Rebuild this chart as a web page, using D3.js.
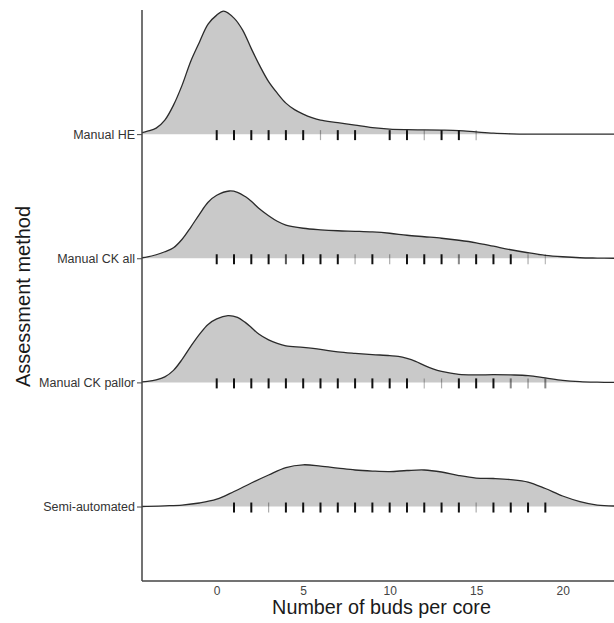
<!DOCTYPE html>
<html>
<head>
<meta charset="utf-8">
<script src="https://cdn.jsdelivr.net/npm/d3@7"></script>
<style>
html,body{margin:0;padding:0;background:#fff;}
svg{display:block;font-family:Arial,"Liberation Sans",Helvetica,sans-serif;}
</style>
</head>
<body>
<svg id="chart" width="614" height="623"></svg>
<script>
// ---- data ----
const categories = ["Manual HE", "Manual CK all", "Manual CK pallor", "Semi-automated"];
const categoryIndex = [4, 3, 2, 1];
const xTicks = [0, 5, 10, 15, 20];

// density curves: [number of buds, density]
const densityHE = [[-4.32,0.0023],[-4,0.0046],[-3.5,0.0092],[-3,0.0215],[-2.5,0.0446],[-2,0.0754],[-1.5,0.1123],[-1,0.1415],[-0.5,0.1692],[0,0.1831],[0.4,0.1892],[1,0.1785],[1.5,0.16],[2,0.1315],[2.5,0.1046],[3,0.0808],[3.5,0.0631],[4,0.0477],[4.5,0.0377],[5,0.0308],[5.5,0.0254],[6,0.0215],[7,0.0177],[8,0.0138],[9,0.01],[10,0.0077],[11,0.0069],[12,0.0066],[13,0.0062],[14,0.0054],[15,0.0034],[16,0.0015],[17,0.0005],[18,0],[23,0]];
const densityCKall = [[-4.32,0.0008],[-4,0.002],[-3.5,0.0054],[-3,0.01],[-2.5,0.0162],[-2,0.0292],[-1.5,0.0477],[-1,0.0677],[-0.5,0.0862],[0,0.0969],[0.73,0.1035],[1.2,0.1015],[1.65,0.0949],[2,0.0877],[2.43,0.0769],[3,0.0654],[3.5,0.0569],[4,0.0511],[5,0.0462],[6,0.0438],[7,0.0423],[8,0.0415],[9,0.0405],[10,0.0385],[11,0.0354],[12,0.0331],[13,0.0308],[14,0.0277],[15,0.0238],[16,0.0185],[17,0.0131],[18,0.0085],[19,0.0046],[20,0.0023],[21,0.0008],[22,0.0003],[23,0]];
const densityCKpallor = [[-4.32,0.0008],[-4,0.0015],[-3.5,0.0038],[-3,0.0085],[-2.5,0.0185],[-2,0.0354],[-1.5,0.0554],[-1,0.0738],[-0.5,0.0892],[0,0.0977],[0.65,0.1026],[1.2,0.1],[1.65,0.0923],[2,0.0846],[2.43,0.0743],[3,0.0654],[3.5,0.06],[4,0.0563],[5,0.0538],[6,0.0508],[7,0.0469],[8,0.0446],[9,0.0428],[10,0.0412],[10.5,0.04],[11,0.0369],[11.5,0.0323],[12,0.0262],[12.5,0.0208],[13,0.0169],[14,0.0123],[15,0.0115],[16,0.0118],[17,0.0115],[18,0.0105],[19,0.0069],[20,0.0031],[21,0.0011],[22,0.0003],[23,0]];
const densitySemi = [[-4.32,0],[-4,0.0002],[-3,0.0011],[-2,0.0023],[-1,0.0054],[0,0.0112],[1,0.0231],[2,0.0362],[3,0.0485],[4,0.06],[5,0.0642],[6,0.0623],[7,0.0592],[8,0.0562],[9,0.0546],[10,0.0538],[11,0.0554],[12,0.0562],[13,0.0531],[14,0.0477],[15,0.0438],[16,0.0431],[17,0.0415],[18,0.0377],[19,0.0277],[20,0.0162],[21,0.0077],[22,0.0023],[23,0.0008]];

// rug marks: observed values and relative weight (darkness)
const rugHE = [0,1,2,3,4,5,6,7,8,10,11,12,13,14,15];
const rugHEWeight = [1,1,1,1,1,1,0.35,1,1,1,1,0.35,1,1,0.35];
const rugCKall = [0,1,2,3,4,5,6,7,8,9,10,11,12,13,14,15,16,17,18,19];
const rugCKallWeight = [1,1,1,1,0.7,1,1,1,0.35,1,0.35,1,1,1,0.5,1,1,1,0.35,0.3];
const rugCKpallor = [0,1,2,3,4,5,6,7,8,9,10,11,12,13,14,15,16,17,18,19];
const rugCKpallorWeight = [1,1,1,1,1,1,1,1,1,1,1,1,0.3,0.35,1,1,1,0.5,0.45,0.5];
const rugSemi = [1,2,3,4,5,6,7,8,9,10,11,12,13,14,15,16,17,18,19];
const rugSemiWeight = [1,1,0.35,1,1,1,1,1,1,1,1,1,1,1,0.35,1,1,1,1];

const densities = [densityHE, densityCKall, densityCKpallor, densitySemi];
const rugs = [rugHE, rugCKall, rugCKpallor, rugSemi];
const rugWeights = [rugHEWeight, rugCKallWeight, rugCKpallorWeight, rugSemiWeight];

// ---- layout ----
const mLeft = 142, mRight = 614, mTop = 10, mBottom = 581;
const svg = d3.select("#chart");

const x = d3.scaleLinear().domain([-4.32, 22.97]).range([mLeft, mRight]);
const y = d3.scaleLinear().domain([0.4, 5]).range([mBottom, mTop]);
const h = d3.scaleLinear().domain([0, 0.2]).range([0, 130]);

svg.append("defs").append("clipPath").attr("id", "clip")
  .append("rect").attr("x", mLeft).attr("y", 0).attr("width", mRight - mLeft).attr("height", mBottom);

const plot = svg.append("g").attr("clip-path", "url(#clip)");
const curve = d3.curveCatmullRom.alpha(0.5);

densities.forEach((dens, i) => {
  const base = y(categoryIndex[i]);
  const area = d3.area()
    .x(d => x(d[0])).y0(base).y1(d => base - h(d[1]))
    .curve(curve);
  const line = d3.line()
    .x(d => x(d[0])).y(d => base - h(d[1]))
    .curve(curve);
  const g = plot.append("g");
  g.append("path").datum(dens).attr("d", area).attr("fill", "#c9c9c9");
  g.append("path").datum(dens).attr("d", line)
    .attr("fill", "none").attr("stroke", "#2b2b2b").attr("stroke-width", 1.3);
  g.selectAll("line.rug").data(rugs[i]).join("line")
    .attr("class", "rug")
    .attr("x1", d => x(d)).attr("x2", d => x(d))
    .attr("y1", base - 4).attr("y2", base + 6)
    .attr("stroke", "#111")
    .attr("stroke-opacity", (d, j) => rugWeights[i][j])
    .attr("stroke-width", (d, j) => rugWeights[i][j] < 0.5 ? 1.2 : 2);
});

// axes
const yAxis = d3.axisLeft(y).tickValues(categoryIndex)
  .tickFormat((d, j) => categories[j]).tickSize(5).tickPadding(2);
const gy = svg.append("g").attr("transform", `translate(${mLeft},0)`).call(yAxis);
gy.select(".domain").remove();
gy.selectAll(".tick line").attr("stroke", "#444");
gy.selectAll(".tick text").attr("fill", "#333").style("font-size", "12.5px")
  .style("font-family", "Arial, 'Liberation Sans', sans-serif");

svg.append("line").attr("x1", mLeft).attr("x2", mLeft).attr("y1", mTop).attr("y2", mBottom)
  .attr("stroke", "#444").attr("stroke-width", 1.5);
svg.append("line").attr("x1", mLeft).attr("x2", mRight).attr("y1", mBottom).attr("y2", mBottom)
  .attr("stroke", "#444").attr("stroke-width", 1.5);

const xAxis = d3.axisBottom(x).tickValues(xTicks).tickSize(0).tickPadding(5);
const gx = svg.append("g").attr("transform", `translate(0,${mBottom})`).call(xAxis);
gx.select(".domain").remove();
gx.selectAll(".tick text").attr("fill", "#444").style("font-size", "12px")
  .style("font-family", "Arial, 'Liberation Sans', sans-serif");

// titles
svg.append("text").attr("x", 381.5).attr("y", 614).attr("text-anchor", "middle")
  .attr("fill", "#1a1a1a").style("font-size", "19.8px").text("Number of buds per core");
svg.append("text").attr("transform", `translate(29.5,296.5) rotate(-90)`)
  .attr("text-anchor", "middle").attr("fill", "#1a1a1a").style("font-size", "20px")
  .text("Assessment method");
</script>
</body>
</html>
